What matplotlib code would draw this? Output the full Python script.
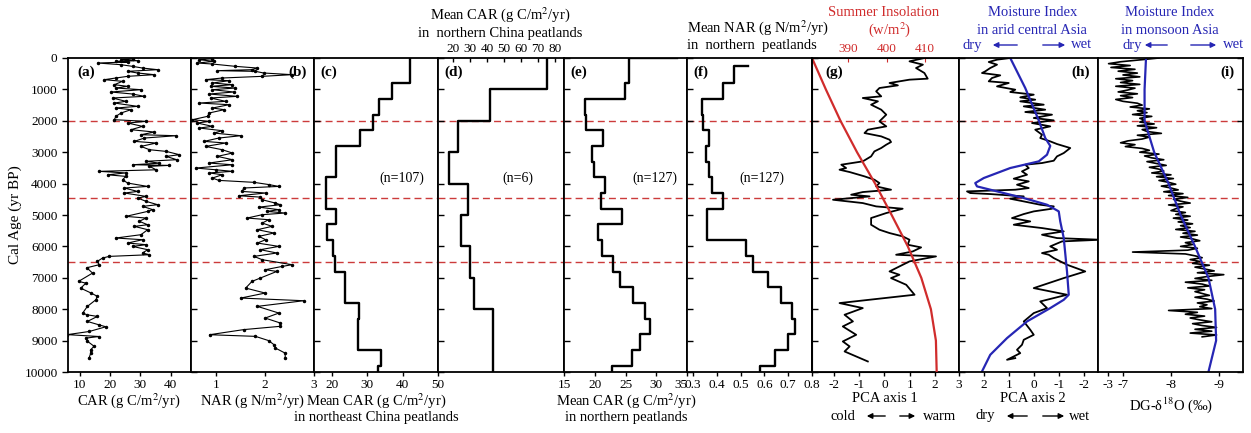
import numpy as np
import matplotlib
matplotlib.use("Agg")
import matplotlib.pyplot as plt

plt.rcParams['font.family'] = ['Liberation Serif', 'DejaVu Serif']
plt.rcParams['mathtext.fontset'] = 'stix'
plt.rcParams['axes.unicode_minus'] = False
plt.rcParams['font.size'] = 10

# ---- (a) CAR record ----
a_age = [22, 54, 86, 107, 128, 160, 213, 266, 320, 372, 425, 478, 531, 584, 637, 690, 743, 850,
         903, 956, 1009, 1083, 1147, 1221, 1274, 1380, 1434, 1540, 1593, 1646, 1752, 1858, 1965,
         2018, 2071, 2177, 2283, 2358, 2443, 2475, 2549, 2655, 2708, 2815, 2921, 2974, 3080, 3133,
         3239, 3290, 3350, 3400, 3420, 3450, 3560, 3610, 3660, 3720, 3770, 3877, 3983, 4090, 4140,
         4250, 4300, 4408, 4460, 4566, 4672, 4725, 4830, 4885, 5044, 5097, 5200, 5310, 5362, 5468,
         5627, 5733, 5787, 5893, 5946, 6000, 6105, 6210, 6265, 6318, 6370, 6477, 6583, 6680, 6850,
         7114, 7170, 7330, 7480, 7590, 7700, 7910, 8130, 8180, 8230, 8390, 8500, 8560, 8710, 8810,
         8870, 8920, 9020, 9180, 9290, 9400, 9540]
a_car = [27.4, 23.6, 29.1, 21.9, 25.8, 15.9, 23.6, 27.4, 30.7, 35.7, 25.8, 29.1, 34.6, 25.8, 21.9,
         18.1, 24.1, 21.4, 25.8, 21.9, 30.2, 20.3, 27.4, 31.3, 20.8, 25.2, 21.4, 29.1, 21.9, 26.9,
         23.6, 21.9, 21.4, 31.9, 25.8, 30.7, 26.9, 34.6, 30.2, 41.8, 31.3, 28.0, 35.2, 30.2, 33.0,
         38.5, 42.9, 38.5, 42.0, 31.9, 36.3, 27.4, 39.6, 33.0, 35.2, 16.4, 25.2, 19.2, 25.2, 24.1,
         25.8, 32.4, 24.7, 29.1, 24.7, 31.9, 29.1, 31.9, 35.7, 30.7, 34.1, 32.4, 25.2, 31.9, 29.6,
         32.4, 28.0, 32.4, 30.2, 21.9, 30.7, 25.8, 31.9, 27.4, 32.4, 30.7, 33.0, 19.7, 17.5, 15.8,
         16.4, 12.3, 14.2, 9.6, 12.0, 10.3, 13.6, 15.8, 15.3, 12.5, 10.9, 12.5, 15.8, 12.5, 16.4,
         18.6, 13.1, 5.9, 16.4, 12.0, 12.5, 14.7, 13.6, 13.6, 13.1]

# ---- (b) NAR record ----
b_age = [22, 54, 107, 160, 192, 266, 320, 372, 404, 425, 478, 531, 584, 637, 690, 722, 796, 850,
         903, 956, 1009, 1083, 1147, 1221, 1274, 1380, 1434, 1487, 1593, 1646, 1752, 1858, 1965,
         2018, 2071, 2177, 2230, 2315, 2390, 2475, 2549, 2655, 2708, 2815, 2921, 3027, 3133, 3239,
         3345, 3400, 3505, 3560, 3610, 3660, 3717, 3823, 3898, 3960, 4030, 4090, 4140, 4250, 4300,
         4387, 4430, 4515, 4620, 4672, 4750, 4830, 4885, 4937, 4990, 5097, 5150, 5256, 5362, 5468,
         5574, 5680, 5787, 5893, 6000, 6105, 6210, 6318, 6424, 6583, 6637, 6743, 6796, 7008, 7114,
         7327, 7486, 7645, 7730, 7910, 8123, 8282, 8440, 8545, 8650, 8813, 8865, 9000, 9130, 9238,
         9400, 9556]
b_nar = [0.92, 0.65, 0.95, 0.61, 0.92, 1.39, 1.84, 1.73, 1.02, 1.80, 1.97, 2.55, 1.94, 1.12, 0.78,
         1.26, 0.92, 1.33, 0.88, 1.39, 0.92, 1.36, 0.85, 1.43, 0.88, 1.19, 0.65, 1.26, 0.92, 1.16,
         0.85, 0.82, 0.51, 0.85, 0.61, 0.92, 0.65, 1.12, 0.95, 1.50, 1.05, 0.75, 1.19, 0.78, 1.12,
         1.33, 1.02, 1.33, 0.85, 1.33, 0.58, 0.99, 1.33, 0.85, 1.12, 0.92, 1.05, 1.77, 2.07, 2.28,
         1.56, 1.53, 2.01, 1.46, 1.90, 1.94, 2.21, 2.31, 1.87, 2.28, 2.04, 2.41, 1.94, 1.63, 2.07,
         1.94, 2.14, 1.84, 2.18, 1.87, 2.01, 1.84, 2.28, 1.90, 2.24, 1.77, 1.94, 2.55, 2.35, 2.00,
         2.24, 1.90, 1.73, 1.60, 2.00, 1.50, 2.79, 1.84, 2.28, 2.00, 2.31, 2.31, 1.56, 0.86, 1.80,
         2.07, 2.18, 2.21, 2.41, 2.41]

# ---- (c)-(f) binned means ----
c_edges = [0, 800, 1300, 1800, 2300, 2800, 3800, 4800, 5300, 5800, 6300, 6800, 7800, 8300, 9300, 9800, 10000]
c_mean = [42.0, 37.0, 33.4, 31.6, 28.0, 21.1, 18.4, 21.1, 18.6, 20.3, 20.9, 23.8, 27.8, 27.3, 34.0, 33.0]

d_edges = [0, 1000, 2000, 3000, 4000, 5000, 6000, 7000, 8000, 10000]
d_mean = [75.4, 41.9, 22.6, 17.6, 28.5, 24.5, 30.1, 32.0, 43.5]

e_edges = [0, 0, 800, 1300, 1800, 2300, 2800, 3300, 3800, 4300, 4800, 5300, 5800, 6300, 6800, 7300,
           7800, 8300, 8800, 9300, 9800, 10000]
e_mean = [33.3, 25.6, 24.9, 18.4, 18.6, 21.3, 19.5, 19.9, 21.7, 21.0, 24.5, 20.6, 21.1, 22.9, 24.1,
          26.2, 28.2, 29.0, 27.4, 26.0, 22.8]

f_edges = [250, 250, 800, 1300, 1800, 2300, 2800, 3300, 3800, 4300, 4800, 5300, 5800, 6300, 6800,
           7300, 7800, 8300, 8800, 9300, 9800, 10000]
f_mean = [0.53, 0.47, 0.424, 0.336, 0.34, 0.367, 0.353, 0.367, 0.379, 0.424, 0.357, 0.357, 0.521,
          0.55, 0.614, 0.671, 0.714, 0.729, 0.697, 0.643, 0.581]

# ---- (g) PCA axis 1 and summer insolation ----
g_age = [0, 106, 212, 319, 478, 658, 690, 796, 871, 956, 1062, 1221, 1274, 1380, 1487, 1646, 1805,
         2018, 2177, 2283, 2390, 2496, 2602, 2676, 2761, 2867, 2974, 3133, 3292, 3398, 3504, 3558,
         3632, 3770, 3876, 3983, 4089, 4195, 4269, 4354, 4408, 4514, 4620, 4726, 4800, 4938, 5097,
         5310, 5469, 5575, 5681, 5788, 5947, 6032, 6160, 6266, 6319, 6478, 6691, 6797, 6903, 7009,
         7222, 7540, 7805, 7965, 8177, 8389, 8549, 8815, 9027, 9186, 9346, 9664]
g_pca1 = [1.58, 0.99, 1.52, 1.25, 1.58, 1.71, 0.99, 0.20, 0.53, -0.20, -0.33, -0.13, -0.86, -0.26,
          -0.53, -0.13, 0.07, -0.20, 0.07, -0.66, -0.79, -0.13, 0.20, 0.26, 0.07, -0.13, -0.40,
          -0.53, -0.86, -1.71, -1.52, -1.78, -1.38, -0.79, -0.40, -0.20, -0.33, 0.26, -0.86, -1.32,
          -0.59, -2.04, -0.86, -0.33, 0.72, 0.07, -0.53, -0.53, -0.20, 0.20, 0.72, 0.99, 0.92,
          1.45, 1.12, 0.46, 2.04, 0.99, 0.46, 0.20, 0.59, 0.26, 0.86, 1.19, -1.78, -0.86, -1.58,
          -1.25, -1.65, -1.12, -1.65, -1.38, -1.58, -0.66]
ins_age = [0, 1000, 2000, 3000, 4000, 5000, 6000, 7000, 8000, 9000, 10000]
ins_val = [380.6, 384.2, 388.0, 392.3, 397.0, 401.3, 405.5, 409.0, 411.5, 412.8, 413.0]

# ---- (h) PCA axis 2 and arid central Asia moisture ----
h_age = [0, 53, 127, 212, 319, 425, 478, 552, 637, 743, 796, 903, 1009, 1083, 1168, 1253, 1327,
         1380, 1487, 1540, 1646, 1720, 1805, 1911, 1986, 2071, 2177, 2283, 2443, 2549, 2655, 2740,
         2867, 3027, 3133, 3271, 3345, 3398, 3504, 3611, 3717, 3844, 3929, 4036, 4142, 4195, 4248,
         4301, 4333, 4408, 4482, 4567, 4673, 4726, 4800, 4885, 4970, 5098, 5204, 5310, 5416, 5522,
         5628, 5735, 5788, 5841, 6000, 6107, 6213, 6266, 6372, 6584, 6797, 7009, 7328, 7540, 7753,
         7965, 8124, 8390, 8655, 8815, 8974, 9133, 9293, 9399, 9505, 9611, 9558]
h_pca2 = [0.95, 1.48, 1.81, 1.48, 1.75, 1.95, 2.08, 1.35, 1.68, 1.81, 1.01, 1.48, 0.75, 0.95, 0.01,
          0.55, -0.05, 0.55, -0.39, 0.41, -0.45, 0.35, -0.72, 0.01, -0.79, 0.08, -0.65, -0.05,
          -0.32, -0.25, -0.65, -0.92, -1.45, -1.19, -0.92, -0.79, -0.32, 0.35, 0.21, 0.48, 0.28,
          0.81, 0.21, 0.68, 0.21, 0.75, 2.68, 2.55, 1.75, 0.41, 0.95, 0.41, -0.25, -0.79, -0.72,
          0.01, 0.41, 0.88, 0.15, 0.81, -0.32, -1.19, -0.32, -0.92, -2.65, -1.12, -0.65, -0.92,
          -0.32, -0.59, -0.79, -1.32, -2.05, -1.19, 0.01, -1.32, -0.25, -0.52, 0.01, 0.41, 0.15,
          0.01, 0.41, 0.48, 0.68, 0.55, 0.81, 1.08, 0.75]
hm_age = [0, 956, 1986, 2549, 2800, 3080, 3292, 3504, 3823, 3983, 4089, 4460, 4673, 4885, 5204,
          5735, 6797, 7540, 7700, 7965, 8390, 8921, 9452, 9983, 10000]
hm_val = [0.95, 0.35, -0.19, -0.45, -0.65, -0.52, -0.19, 0.95, 2.01, 2.35, 2.28, 0.41, -0.52,
          -0.99, -1.05, -1.19, -1.32, -1.39, -1.19, -0.65, 0.28, 1.08, 1.75, 2.08, 2.09]

# ---- (i) Dongge cave d18O, 60-yr samples from 0 BP ----
i_d18o = [-7.75, -7.35,
          -6.95, -6.7, -7.15, -6.75, -7.25, -6.9, -7.3,
          -7.0, -7.35, -6.85, -7.2, -6.95, -7.35, -6.85, -7.25,
          -7.1, -6.9, -7.3, -6.95, -7.2, -6.85, -7.0, -7.3,
          -7.4, -7.15, -7.55, -7.3, -7.5, -7.2, -7.6, -7.35, -7.45,
          -7.35, -7.65, -7.3, -7.7, -7.4, -7.5, -7.8, -7.3, -7.55, -7.4, -7.1,
          -6.95, -7.25, -7.05, -7.4,
          -7.55, -7.35, -7.75, -7.45, -7.6, -7.85, -7.5, -7.7, -7.9, -7.55, -7.75,
          -7.85, -7.6, -8.0, -7.7, -8.05, -7.75, -7.95, -8.1, -7.8, -8.0,
          -8.15, -7.85, -8.25, -7.95, -8.35, -8.05, -8.2, -8.4, -7.95, -8.25, -8.1,
          -8.0, -8.3, -8.1, -8.4, -8.05, -8.35, -8.15, -8.45, -8.2,
          -8.4, -8.1, -8.5, -8.25, -8.55, -8.2, -8.45, -8.6, -8.3,
          -8.45, -8.2, -8.55, -8.35, -7.2, -8.3, -8.5, -8.65, -8.4,
          -8.6, -8.45, -8.8, -8.5, -8.7, -8.9, -8.55, -9.1,
          -8.75, -8.5, -8.85, -8.3, -8.65, -8.8, -8.35, -8.7, -8.5,
          -8.65, -8.8, -8.5, -8.75, -8.9, -8.55, -8.75, -8.6, -8.85,
          -7.95, -8.55, -8.3, -8.7, -8.4, -8.6, -8.85, -8.45, -8.65,
          -8.95, -8.5, -8.85, -8.4, -8.95, -8.65]
i_age = np.arange(len(i_d18o)) * 60
im_age = [0, 1000, 2000, 3000, 4000, 5000, 6000, 7000, 8000, 9000, 10000]
im_val = [-7.48, -7.45, -7.45, -7.65, -7.95, -8.2, -8.5, -8.78, -8.92, -8.94, -8.78]

events = [2000, 4450, 6500]

W, H = 1251, 433
TOP, BOT = 58, 372
RED = '#d02c2c'
BLUE = '#2626b4'
TICK = 9.5

fig = plt.figure(figsize=(W / 100, H / 100), dpi=100)


def fx(x):
    return x / W


def fy(y):
    return 1 - y / H


def panel(x0, x1):
    ax = fig.add_axes([fx(x0), fy(BOT), (x1 - x0) / W, (BOT - TOP) / H])
    ax.set_ylim(10000, 0)
    ax.set_yticks(range(0, 10001, 1000))
    for s in ax.spines.values():
        s.set_linewidth(1.3)
    ax.tick_params(axis='y', direction='in', length=4, width=1, labelleft=False)
    ax.tick_params(axis='x', direction='out', length=3, width=1, pad=2, labelsize=TICK)
    for t in events:
        ax.axhline(t, color='#cc3b3b', lw=1.0, ls=(0, (5, 3)), zorder=0)
    return ax


def steps(edges, vals):
    xs, ys = [], []
    for k, v in enumerate(vals):
        xs += [v, v]
        ys += [edges[k], edges[k + 1]]
    return xs, ys


def tag(ax, s, x, ha='left'):
    ax.text(x, 0.955, s, transform=ax.transAxes, ha=ha, va='center',
            fontsize=11, fontweight='bold')


# (a)
ax = panel(68, 191)
ax.plot(a_car, a_age, '-', color='k', lw=0.8, marker='o', ms=1.5)
ax.set_xlim(6.1, 46.7)
ax.set_xticks([10, 20, 30, 40])
ax.tick_params(axis='y', direction='out', labelleft=True, labelsize=TICK)
ax.set_ylabel('Cal Age (yr BP)', fontsize=11, labelpad=6)
ax.yaxis.set_label_coords(-0.37, 0.5)
tag(ax, '(a)', 0.08)

# (b)
ax = panel(191, 314)
ax.plot(b_nar, b_age, '-', color='k', lw=0.8, marker='o', ms=1.5)
ax.set_xlim(0.48, 3.0)
ax.set_xticks([1, 2, 3])
tag(ax, '(b)', 0.94, ha='right')

# (c)
ax = panel(314, 438)
xs, ys = steps(c_edges, c_mean)
ax.plot(xs, ys, color='k', lw=1.7)
ax.set_xlim(15, 50)
ax.set_xticks([20, 30, 40, 50])
ax.text(0.71, 0.617, '(n=107)', transform=ax.transAxes, ha='center', va='center', fontsize=10)
tag(ax, '(c)', 0.05)

# (d)
ax = panel(438, 564)
xs, ys = steps(d_edges, d_mean)
ax.plot(xs, ys, color='k', lw=1.7)
ax.set_xlim(11, 85.3)
ax.xaxis.tick_top()
ax.set_xticks(range(20, 81, 10))
ax.tick_params(axis='x', direction='in', length=3, pad=2)
ax.text(0.63, 0.617, '(n=6)', transform=ax.transAxes, ha='center', va='center', fontsize=10)
tag(ax, '(d)', 0.05)

# (e)
ax = panel(564, 687)
xs, ys = steps(e_edges, e_mean)
ax.plot(xs, ys, color='k', lw=1.7)
ax.set_xlim(15, 35)
ax.set_xticks([15, 20, 25, 30, 35])
ax.text(0.74, 0.617, '(n=127)', transform=ax.transAxes, ha='center', va='center', fontsize=10)
tag(ax, '(e)', 0.05)
ax.get_xticklabels()[-1].set_horizontalalignment('right')

# (f)
ax = panel(687, 812)
xs, ys = steps(f_edges, f_mean)
ax.plot(xs, ys, color='k', lw=1.7)
ax.set_xlim(0.274, 0.8)
ax.set_xticks([0.3, 0.4, 0.5, 0.6, 0.7, 0.8])
ax.set_xticklabels(['0.3', '0.4', '0.5', '0.6', '0.7', '0.8'])
ax.text(0.60, 0.617, '(n=127)', transform=ax.transAxes, ha='center', va='center', fontsize=10)
tag(ax, '(f)', 0.05)

# (g)
ax = panel(812, 959)
ax.plot(g_pca1, g_age, color='k', lw=1.3)
ax.set_xlim(-2.87, 2.95)
ax.set_xticks([-2, -1, 0, 1, 2])
tag(ax, '(g)', 0.09)
axt = ax.twiny()
axt.plot(ins_val, ins_age, color=RED, lw=1.6)
axt.set_xlim(380.6, 418.8)
axt.set_ylim(10000, 0)
axt.set_xticks([390, 400, 410])
axt.tick_params(axis='x', direction='in', length=3, pad=2, labelcolor=RED, colors=RED, labelsize=TICK)

# (h)
ax = panel(959, 1098)
ax.plot(h_pca2, h_age, color='k', lw=1.3)
ax.plot(hm_val, hm_age, color=BLUE, lw=1.6)
ax.set_xlim(3, -2.56)
ax.set_xticks([3, 2, 1, 0, -1, -2])
tag(ax, '(h)', 0.94, ha='right')

# (i)
ax = panel(1098, 1243)
ax.plot(i_d18o, i_age, color='k', lw=1.2)
ax.plot(im_val, im_age, color=BLUE, lw=1.6)
ax.set_xlim(-6.48, -9.5)
ax.set_xticks([-6.69, -7, -8, -9])
ax.set_xticklabels(['-3', '-7', '-8', '-9'])
ax.tick_params(axis='y', left=False, right=True)
tag(ax, '(i)', 0.94, ha='right')


# axis titles placed around the panels
def label(x, y, s, color='k', ha='center'):
    fig.text(fx(x), fy(y), s, ha=ha, va='center', fontsize=10.5, color=color)


label(129, 401, 'CAR (g C/m$^2$/yr)')
label(252, 401, 'NAR (g N/m$^2$/yr)')
label(376, 401, 'Mean CAR (g C/m$^2$/yr)')
label(376, 417, 'in northeast China peatlands')
label(626, 401, 'Mean CAR (g C/m$^2$/yr)')
label(626, 417, 'in northern peatlands')
label(885, 399, 'PCA axis 1')
label(1033, 399, 'PCA axis 2')
label(1171, 405, 'DG-δ$^{18}$O (‰)')

label(500, 15, 'Mean CAR (g C/m$^2$/yr)')
label(500, 33, 'in  northern China peatlands')
label(687, 28, 'Mean NAR (g N/m$^2$/yr)', ha='left')
label(687, 46, 'in  northern  peatlands', ha='left')
label(884, 12, 'Summer Insolation', color=RED)
label(890, 30, '(w/m$^2$)', color=RED)
label(1033, 12, 'Moisture Index', color=BLUE)
label(1032, 30, 'in arid central Asia', color=BLUE)
label(1170, 12, 'Moisture Index', color=BLUE)
label(1170, 30, 'in monsoon Asia', color=BLUE)


def arrow_pair(y, left_word, right_word, xl, a1, a2, a3, a4, xr, color):
    label(xl, y, left_word, color=color)
    label(xr, y, right_word, color=color)
    for x_from, x_to in ((a1, a2), (a3, a4)):
        fig.add_artist(matplotlib.patches.FancyArrowPatch(
            (fx(x_from), fy(y)), (fx(x_to), fy(y)), transform=fig.transFigure,
            arrowstyle='-|>', mutation_scale=8, color=color, lw=1.0))


arrow_pair(45, 'dry', 'wet', 972, 1020, 990, 1040, 1068, 1082, BLUE)
arrow_pair(45, 'dry', 'wet', 1132, 1170, 1142, 1188, 1219, 1234, BLUE)
arrow_pair(416, 'cold', 'warm', 843, 888, 864, 897, 918, 940, 'k')
arrow_pair(416, 'dry', 'wet', 985, 1030, 1004, 1040, 1067, 1080, 'k')

fig.savefig('out.png', dpi=100)
